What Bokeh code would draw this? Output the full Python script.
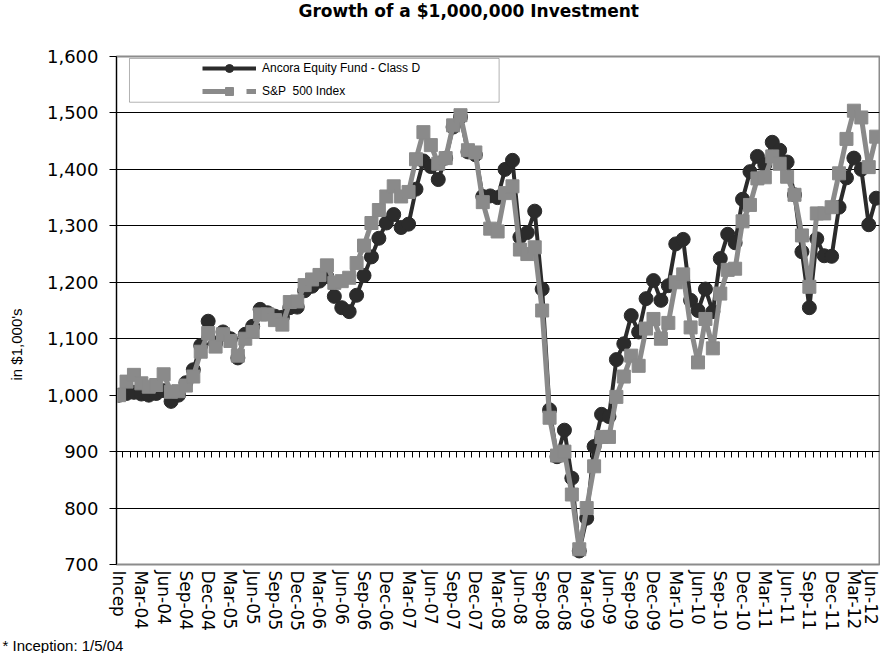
import math
from bokeh.plotting import figure
from bokeh.models import (Range1d, FixedTicker, NumeralTickFormatter, LinearAxis,
                          Legend, LegendItem, BoxAnnotation, Title)
from bokeh.embed import file_html
from bokeh.resources import INLINE

x_labels = ["Incep", "Mar-04", "Jun-04", "Sep-04", "Dec-04", "Mar-05", "Jun-05", "Sep-05",
            "Dec-05", "Mar-06", "Jun-06", "Sep-06", "Dec-06", "Mar-07", "Jun-07", "Sep-07",
            "Dec-07", "Mar-08", "Jun-08", "Sep-08", "Dec-08", "Mar-09", "Jun-09", "Sep-09",
            "Dec-09", "Mar-10", "Jun-10", "Sep-10", "Dec-10", "Mar-11", "Jun-11", "Sep-11",
            "Dec-11", "Mar-12", "Jun-12"]

fund = [1000, 1003, 1005, 1002, 1000, 1003, 1008, 989, 1000, 1022,
        1045, 1088, 1131, 1092, 1112, 1100, 1066, 1108, 1122, 1152,
        1146, 1140, 1138, 1155, 1156, 1185, 1193, 1202, 1210, 1175,
        1155, 1148, 1177, 1212, 1245, 1278, 1305, 1320, 1297, 1303,
        1365, 1415, 1405, 1382, 1420, 1475, 1493, 1431, 1426, 1352,
        1353, 1350, 1400, 1416, 1280, 1288, 1326, 1188, 974, 891,
        938, 853, 724, 782, 909, 966, 962, 1063, 1091, 1141,
        1112, 1171, 1203, 1168, 1194, 1268, 1276, 1168, 1150, 1188,
        1148, 1242, 1285, 1270, 1347, 1396, 1423, 1408, 1448, 1434,
        1413, 1355, 1254, 1155, 1277, 1247, 1246, 1333, 1385, 1420,
        1400, 1302, 1349]

sp500 = [1000, 1024, 1036, 1021, 1015, 1018, 1037, 1006, 1007, 1017,
         1033, 1077, 1110, 1086, 1108, 1096, 1070, 1100, 1112, 1143,
         1143, 1133, 1125, 1165, 1166, 1195, 1205, 1213, 1230, 1199,
         1202, 1208, 1234, 1265, 1305, 1328, 1352, 1370, 1352, 1360,
         1418, 1466, 1443, 1410, 1420, 1478, 1496, 1434, 1430, 1342,
         1295, 1290, 1358, 1370, 1258, 1250, 1262, 1150, 960, 893,
         900, 824, 727, 800, 874, 926, 926, 997, 1033, 1070,
         1052, 1118, 1135, 1100, 1128, 1200, 1214, 1120, 1058, 1135,
         1083, 1180, 1222, 1224, 1308, 1337, 1384, 1386, 1423, 1410,
         1387, 1355, 1283, 1192, 1322, 1322, 1333, 1393, 1454, 1504,
         1492, 1404, 1458]

y_ticks = [700, 800, 900, 1000, 1100, 1200, 1300, 1400, 1500, 1600]

idx = list(range(len(fund)))
tick_idx = idx[::3]
month_bounds = [i + 0.5 for i in idx[:-1]]
nan = float("nan")

dark = "#2b2b2b"
gray = "#8a8a8a"

p = figure(width=880, height=653, output_backend="svg", toolbar_location=None,
           x_range=Range1d(-0.35, len(fund) - 0.55), y_range=Range1d(700, 1600),
           min_border_left=114, min_border_right=1, min_border_top=56, min_border_bottom=87)
p.title.text = ""

# spacer + title above the frame
p.add_layout(Title(text=" ", text_font_size="1px", standoff=31), "above")
p.add_layout(Title(text="Growth of a $1,000,000 Investment", align="left", offset=182,
                   vertical_align="top", standoff=0, text_font="DejaVu Sans",
                   text_font_size="17px", text_font_style="bold", text_color="black"), "above")

p.background_fill_color = "white"
p.outline_line_color = "#8c8c8c"
p.outline_line_width = 2

# y axis
p.yaxis.ticker = FixedTicker(ticks=y_ticks)
p.yaxis.formatter = NumeralTickFormatter(format="0,0")
p.yaxis.major_label_text_font = "DejaVu Sans"
p.yaxis.major_label_text_font_size = "18px"
p.yaxis.major_label_text_color = "black"
p.yaxis.major_label_standoff = 11
p.yaxis.major_tick_out = 7
p.yaxis.major_tick_in = 0
p.yaxis.minor_tick_out = 0
p.yaxis.minor_tick_in = 0
p.yaxis.axis_line_color = "black"
p.yaxis.major_tick_line_color = "black"

# y axis title (placed off-centre like the original)
p.add_layout(Title(text=" ", text_font_size="1px", standoff=11), "left")
p.add_layout(Title(text="in $1,000's", align="left", offset=184, vertical_align="bottom",
                   standoff=10, text_font="Liberation Sans", text_font_size="15px",
                   text_font_style="normal", text_color="black"), "left")

# x axis
p.xaxis.ticker = FixedTicker(ticks=tick_idx)
p.xaxis.major_label_overrides = {i: lab for i, lab in zip(tick_idx, x_labels)}
p.xaxis.major_label_orientation = -math.pi / 2
p.xaxis.major_label_text_font = "DejaVu Sans"
p.xaxis.major_label_text_font_size = "17px"
p.xaxis.major_label_text_color = "black"
p.xaxis.major_label_standoff = 6
p.xaxis.major_tick_out = 0
p.xaxis.major_tick_in = 0
p.xaxis.minor_tick_out = 0
p.xaxis.minor_tick_in = 0
p.xaxis.axis_line_color = None

# the category axis crossing at 900, ticks between months
cross_axis = LinearAxis(fixed_location=900, ticker=FixedTicker(ticks=month_bounds),
                        major_tick_out=6, major_tick_in=0, minor_tick_out=0, minor_tick_in=0,
                        major_label_text_alpha=0, major_label_text_font_size="1px",
                        axis_line_color="black", major_tick_line_color="black")
cross_axis.level = "underlay"
p.add_layout(cross_axis, "below")

p.xgrid.visible = False
p.ygrid.ticker = FixedTicker(ticks=y_ticks)
p.ygrid.grid_line_color = "black"
p.ygrid.grid_line_width = 1

# series
p.line(idx, fund, line_color=dark, line_width=4)
p.scatter(idx, fund, marker="circle", size=14, fill_color=dark, line_color=dark)
p.line(idx, sp500, line_color=gray, line_width=5)
p.scatter(idx, sp500, marker="square", size=13, fill_color=gray, line_color=gray)

# legend proxies (not visible in the plot area)
lf1 = p.line(x=[nan], y=[nan], line_color=dark, line_width=4)
lf2 = p.scatter(x=[nan], y=[nan], marker="circle", size=7, fill_color=dark, line_color=dark)
ls1 = p.line(x=[nan], y=[nan], line_color=gray, line_width=5, line_dash="31 13")
ls2 = p.scatter(x=[nan], y=[nan], marker="square", size=9, fill_color=gray, line_color=gray)

legend = Legend(items=[LegendItem(label="Ancora Equity Fund - Class D", renderers=[lf1, lf2]),
                       LegendItem(label="S&P  500 Index", renderers=[ls1, ls2])],
                location=(86, 463), glyph_width=54, glyph_height=20, label_height=20,
                spacing=3, padding=2, label_standoff=6, border_line_color=None,
                background_fill_alpha=0, label_text_font="Liberation Sans",
                label_text_font_size="12px", label_text_color="black")
p.add_layout(legend)

box = BoxAnnotation(left=1.4, right=51.2, bottom=1519, top=1596.5, fill_color=None,
                    line_color="black", line_width=1)
p.add_layout(box)

foot = Title(text="*  Inception: 1/5/04", align="left", offset=-114,
             text_font="Liberation Sans", text_font_size="15px",
             text_font_style="normal", text_color="black", standoff=0)
p.add_layout(foot, "below")

open("out.html", "w").write(file_html(p, INLINE))
